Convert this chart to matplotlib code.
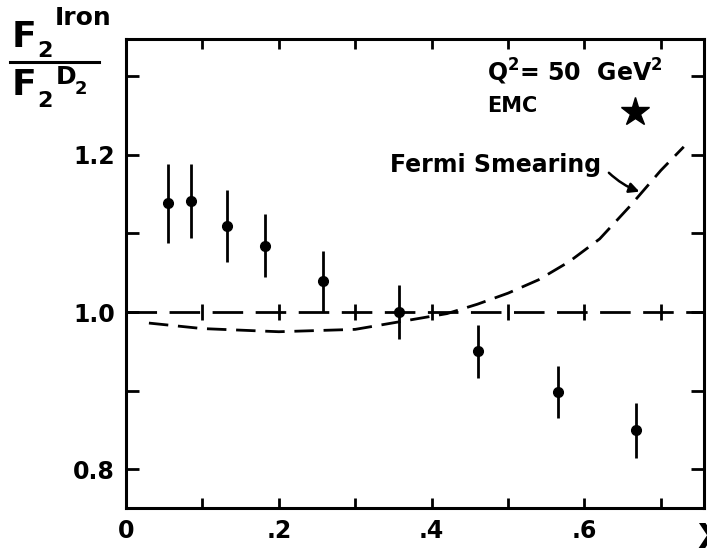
import matplotlib
matplotlib.use("Agg")
import matplotlib.pyplot as plt
from matplotlib.ticker import FixedLocator, FixedFormatter

# ---- data ----
emc_x = [0.055, 0.085, 0.132, 0.182, 0.258, 0.357, 0.461, 0.565, 0.668]
emc_y = [1.138, 1.141, 1.109, 1.084, 1.039, 1.000, 0.950, 0.898, 0.850]
emc_err = [0.050, 0.047, 0.046, 0.040, 0.039, 0.034, 0.034, 0.033, 0.035]

fermi_x = [0.03, 0.10, 0.20, 0.30, 0.36, 0.42, 0.46, 0.50, 0.54, 0.58, 0.62, 0.66, 0.70, 0.73]
fermi_y = [0.986, 0.979, 0.975, 0.978, 0.988, 0.998, 1.010, 1.024, 1.041, 1.064, 1.093, 1.135, 1.180, 1.210]

unity_marks_x = [0.1, 0.2, 0.3, 0.4, 0.5, 0.6, 0.7]

x_major = [0.0, 0.2, 0.4, 0.6]
x_major_labels = ["0", ".2", ".4", ".6"]
x_minor = [0.1, 0.3, 0.5, 0.7]
y_major = [0.8, 1.0, 1.2]
y_major_labels = ["0.8", "1.0", "1.2"]
y_minor = [0.9, 1.1, 1.3]

W, H = 707, 555
fig = plt.figure(figsize=(W / 100, H / 100), dpi=100)
ax = fig.add_axes([126 / W, 1 - 508 / H, (704 - 126) / W, (508 - 39) / H])
ax.set_xlim(0, 0.7565)
ax.set_ylim(0.751, 1.347)

# unity dashed line with small crosses
ax.axhline(1.0, color="black", lw=2.0, dashes=(11, 4.5))
ax.plot(unity_marks_x, [1.0] * len(unity_marks_x), ls="none", marker="|",
        ms=12, mew=2.0, color="black")

# Fermi smearing curve
ax.plot(fermi_x, fermi_y, color="black", lw=2.0, dashes=(7, 3.5))

# EMC data
ax.errorbar(emc_x, emc_y, yerr=emc_err, fmt="o", color="black", ms=7,
            elinewidth=2.0, capsize=0)

# star marker
ax.plot([0.666], [1.254], marker="*", ms=21, color="black", ls="none")

# texts
ax.text(0.473, 1.305, r"Q$^{\mathbf{2}}$= 50  GeV$^{\mathbf{2}}$", fontsize=17,
        fontweight="bold", va="center", ha="left")
ax.text(0.473, 1.262, "EMC", fontsize=15, fontweight="bold", va="center", ha="left")
ax.text(0.346, 1.187, "Fermi Smearing", fontsize=17, fontweight="bold",
        va="center", ha="left")
ax.annotate("", xy=(0.672, 1.153), xytext=(0.632, 1.177),
            arrowprops=dict(arrowstyle="-|>", color="black", lw=1.8,
                            mutation_scale=15, shrinkA=0, shrinkB=0,
                            connectionstyle="arc3,rad=0.1"))

# spines and ticks
for s in ax.spines.values():
    s.set_linewidth(2.2)
ax.xaxis.set_major_locator(FixedLocator(x_major))
ax.xaxis.set_major_formatter(FixedFormatter(x_major_labels))
ax.xaxis.set_minor_locator(FixedLocator(x_minor))
ax.yaxis.set_major_locator(FixedLocator(y_major))
ax.yaxis.set_major_formatter(FixedFormatter(y_major_labels))
ax.yaxis.set_minor_locator(FixedLocator(y_minor))
ax.tick_params(axis="x", which="both", direction="in", length=7, width=2,
               top=True, bottom=True, pad=8, labelsize=17)
ax.tick_params(axis="y", which="both", direction="in", length=9.5, width=2,
               left=True, right=True, pad=8, labelsize=17)
for lab in ax.get_xticklabels() + ax.get_yticklabels():
    lab.set_fontweight("bold")

# y-axis label as a stacked fraction
def fp(x, y):
    return (x / W, 1 - y / H)

fig.text(*fp(12, 47), "F", fontsize=26, fontweight="bold", ha="left", va="baseline")
fig.text(*fp(37, 57), "2", fontsize=16, fontweight="bold", ha="left", va="baseline")
fig.text(*fp(55, 25), "Iron", fontsize=18, fontweight="bold", ha="left", va="baseline")
fig.add_artist(plt.Line2D([10 / W, 99 / W], [1 - 62 / H, 1 - 62 / H], color="black", lw=2.2))
fig.text(*fp(12, 95), "F", fontsize=26, fontweight="bold", ha="left", va="baseline")
fig.text(*fp(37, 107), "2", fontsize=16, fontweight="bold", ha="left", va="baseline")
fig.text(*fp(56, 84), "D", fontsize=18, fontweight="bold", ha="left", va="baseline")
fig.text(*fp(75, 94), "2", fontsize=13, fontweight="bold", ha="left", va="baseline")

fig.text(*fp(697, 548), "X", fontsize=24, fontweight="bold", ha="left", va="baseline")

fig.savefig("out.png", dpi=100)
